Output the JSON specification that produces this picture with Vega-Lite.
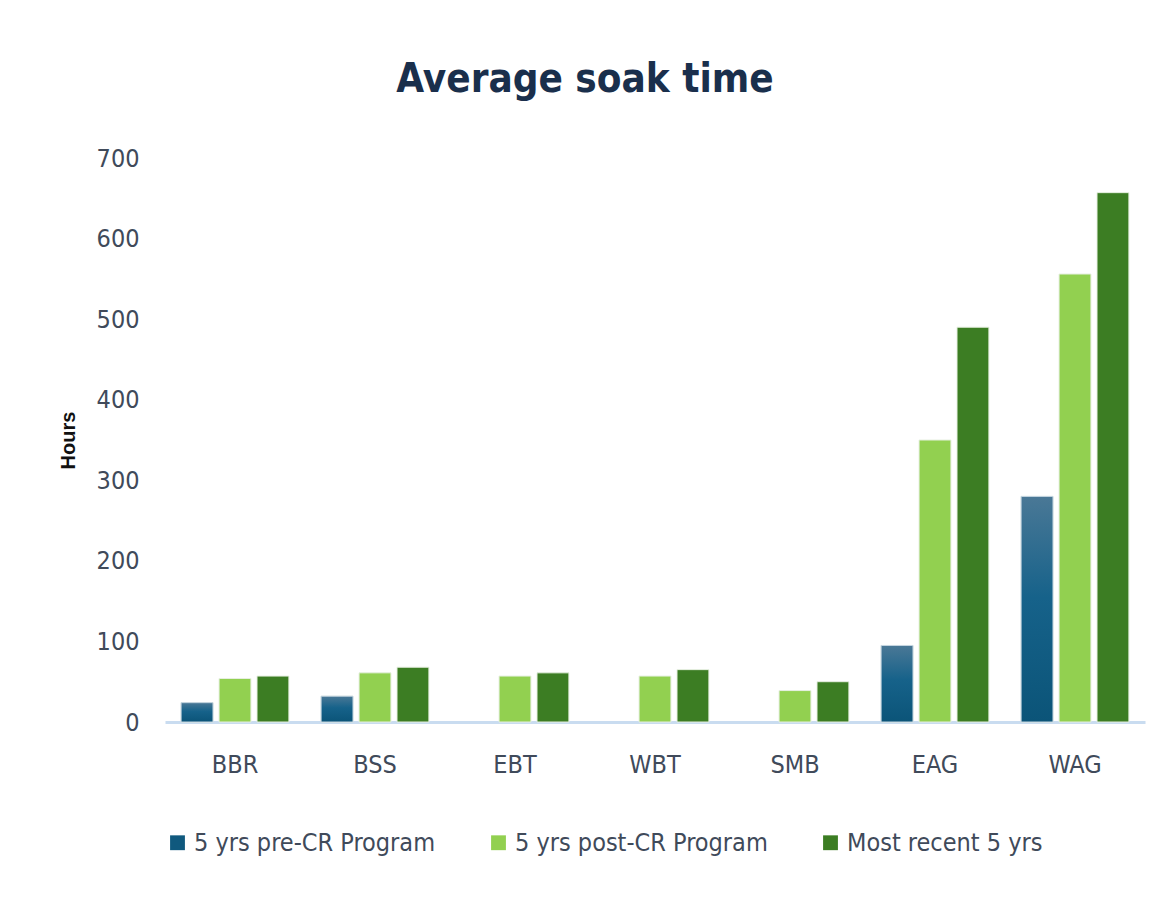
{
  "$schema": "https://vega.github.io/schema/vega-lite/v6.json",
  "width": 980,
  "height": 564,
  "autosize": {"type": "none"},
  "padding": {"left": 165, "top": 158, "right": 22, "bottom": 178},
  "background": "white",
  "config": {
    "view": {"stroke": null},
    "font": "DejaVu Sans Condensed, Liberation Sans Narrow, Liberation Sans, sans-serif"
  },
  "title": {
    "text": "Average soak time",
    "font": "DejaVu Sans Condensed, Liberation Sans Narrow, Liberation Sans, sans-serif",
    "fontSize": 40,
    "fontWeight": "bold",
    "color": "#1a2f4c",
    "anchor": "middle",
    "dx": -70,
    "offset": 46
  },
  "data": {
    "values": [
      {"site": "BBR", "series": "5 yrs pre-CR Program", "hours": 24},
      {"site": "BBR", "series": "5 yrs post-CR Program", "hours": 54},
      {"site": "BBR", "series": "Most recent 5 yrs", "hours": 57},
      {"site": "BSS", "series": "5 yrs pre-CR Program", "hours": 32},
      {"site": "BSS", "series": "5 yrs post-CR Program", "hours": 61},
      {"site": "BSS", "series": "Most recent 5 yrs", "hours": 68},
      {"site": "EBT", "series": "5 yrs post-CR Program", "hours": 57},
      {"site": "EBT", "series": "Most recent 5 yrs", "hours": 61},
      {"site": "WBT", "series": "5 yrs post-CR Program", "hours": 57},
      {"site": "WBT", "series": "Most recent 5 yrs", "hours": 65},
      {"site": "SMB", "series": "5 yrs post-CR Program", "hours": 39},
      {"site": "SMB", "series": "Most recent 5 yrs", "hours": 50},
      {"site": "EAG", "series": "5 yrs pre-CR Program", "hours": 95},
      {"site": "EAG", "series": "5 yrs post-CR Program", "hours": 350},
      {"site": "EAG", "series": "Most recent 5 yrs", "hours": 490},
      {"site": "WAG", "series": "5 yrs pre-CR Program", "hours": 280},
      {"site": "WAG", "series": "5 yrs post-CR Program", "hours": 556},
      {"site": "WAG", "series": "Most recent 5 yrs", "hours": 657}
    ]
  },
  "encoding": {
    "x": {
      "field": "site",
      "type": "nominal",
      "sort": ["BBR", "BSS", "EBT", "WBT", "SMB", "EAG", "WAG"],
      "scale": {"paddingInner": 0.23, "paddingOuter": 0.115},
      "axis": {
        "title": null,
        "labelAngle": 0,
        "labelFontSize": 25,
        "labelColor": "#404a5a",
        "labelPadding": 30,
        "ticks": false,
        "domainColor": "#c9dcf0",
        "domainWidth": 3
      }
    },
    "xOffset": {
      "field": "series",
      "type": "nominal",
      "sort": ["5 yrs pre-CR Program", "5 yrs post-CR Program", "Most recent 5 yrs"],
      "scale": {"domain": ["5 yrs pre-CR Program", "5 yrs post-CR Program", "Most recent 5 yrs"], "paddingInner": 0.16, "paddingOuter": 0}
    },
    "y": {
      "field": "hours",
      "type": "quantitative",
      "scale": {"domain": [0, 700], "nice": false},
      "axis": {
        "title": "Hours",
        "titleFont": "Liberation Sans, sans-serif",
        "titleFontSize": 20,
        "titleFontWeight": "bold",
        "titleColor": "#111111",
        "titlePadding": 18,
        "values": [0, 100, 200, 300, 400, 500, 600, 700],
        "labelFontSize": 25,
        "labelColor": "#404a5a",
        "labelPadding": 26,
        "ticks": false,
        "domain": false,
        "grid": false
      }
    }
  },
  "layer": [
    {
      "mark": {"type": "bar", "stroke": "#e6efe0", "strokeWidth": 1},
      "encoding": {
        "color": {
          "field": "series",
          "type": "nominal",
          "scale": {
            "domain": ["5 yrs pre-CR Program", "5 yrs post-CR Program", "Most recent 5 yrs"],
            "range": ["#10597e", "#92d050", "#3c7d23"]
          },
          "legend": {
            "title": null,
            "orient": "none",
            "legendX": 0,
            "legendY": 672,
            "direction": "horizontal",
            "symbolType": "square",
            "symbolSize": 220,
            "symbolStrokeWidth": 0,
            "labelFontSize": 25,
            "labelColor": "#404a5a",
            "labelOffset": 4,
            "columnPadding": 50,
            "labelLimit": 400
          }
        }
      }
    },
    {
      "transform": [{"filter": "datum.series === '5 yrs pre-CR Program'"}],
      "mark": {
        "type": "bar",
        "stroke": "#c6d6e2",
        "strokeWidth": 1,
        "color": {
          "gradient": "linear",
          "x1": 0, "y1": 0, "x2": 0, "y2": 1,
          "stops": [
            {"offset": 0, "color": "#4a7896"},
            {"offset": 0.45, "color": "#16628a"},
            {"offset": 1, "color": "#0b5478"}
          ]
        }
      }
    }
  ]
}
